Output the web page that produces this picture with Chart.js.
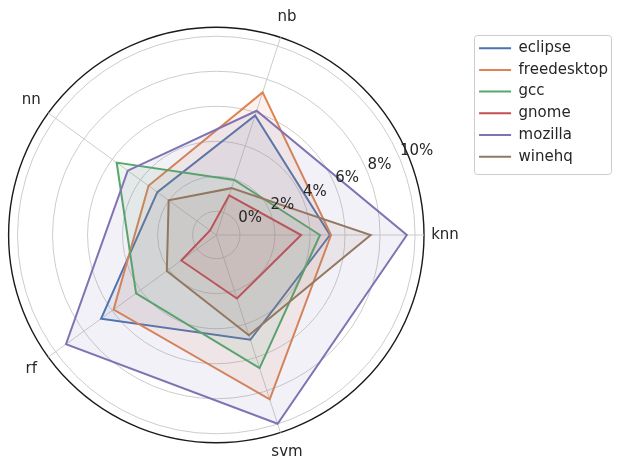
<!DOCTYPE html>
<html>
<head>
<meta charset="utf-8">
<script src="https://cdn.jsdelivr.net/npm/chart.js@4.4.1/dist/chart.umd.min.js"></script>
<style>
  html, body { margin: 0; padding: 0; background: #ffffff; }
  #wrap { width: 618px; height: 458px; position: relative; }
</style>
</head>
<body>
<div id="wrap"><canvas id="c" width="618" height="458"></canvas></div>
<script>
// Axis categories, listed clockwise starting at the right (knn)
const categories = ['knn', 'svm', 'rf', 'nn', 'nb'];
const seriesNames = ['eclipse', 'freedesktop', 'gcc', 'gnome', 'mozilla', 'winehq'];

// Values in % (same order as categories)
const eclipse     = [5.14, 4.94, 6.78, 2.81, 5.82];
const freedesktop = [5.20, 8.52, 5.90, 3.43, 7.21];
const gcc         = [4.57, 6.64, 4.31, 5.68, 1.95];
const gnome       = [3.49, 2.46, 1.12, -0.91, 1.03];
const mozilla     = [9.53, 9.98, 9.26, 4.90, 6.11];
const winehq      = [7.47, 4.67, 2.14, 2.01, 1.46];

const tickValues = [0, 2, 4, 6, 8, 10];
const rMin = -1.354;
const rMax = 10.51;

const seriesValues = [eclipse, freedesktop, gcc, gnome, mozilla, winehq];
const seriesColors = ['#4c72b0', '#dd8452', '#55a868', '#c44e52', '#8172b3', '#937860'];

function rgba(hex, a) {
  const n = parseInt(hex.slice(1), 16);
  return `rgba(${(n >> 16) & 255},${(n >> 8) & 255},${n & 255},${a})`;
}

const FONT = '"DejaVu Sans", sans-serif';
const TEXT = '#262626';
Chart.defaults.font.family = FONT;

const polarDecor = {
  id: 'polarDecor',
  afterDatasetsDraw(chart) {
    const s = chart.scales.r;
    const ctx = chart.ctx;
    ctx.save();
    ctx.fillStyle = TEXT;
    ctx.font = '15px ' + FONT;
    // radial tick labels along the 22.5° direction
    const ang = -22.5 * Math.PI / 180;
    ctx.textAlign = 'left';
    ctx.textBaseline = 'bottom';
    tickValues.forEach(v => {
      const d = s.getDistanceFromCenterForValue(v);
      ctx.fillText(v + '%', s.xCenter + d * Math.cos(ang), s.yCenter + d * Math.sin(ang));
    });
    // category labels, centred outside the outer circle
    ctx.textAlign = 'center';
    ctx.textBaseline = 'middle';
    chart.data.labels.forEach((lab, i) => {
      const p = s.getPointPosition(i, s.drawingArea + 21);
      ctx.fillText(lab, p.x, p.y);
    });
    ctx.restore();
  },
  afterDraw(chart) {
    const hb = chart.legend && chart.legend.legendHitBoxes;
    if (!hb || !hb.length) return;
    const ctx = chart.ctx;
    const left = Math.min(...hb.map(h => h.left)) - 5;
    const right = Math.max(...hb.map(h => h.left + h.width)) + 3;
    const top = hb[0].top - 6;
    const last = hb[hb.length - 1];
    const bottom = last.top + last.height + 9;
    ctx.save();
    ctx.strokeStyle = '#cccccc';
    ctx.lineWidth = 1;
    ctx.beginPath();
    ctx.roundRect(Math.round(left) + 0.5, Math.round(top) + 0.5, Math.round(right - left), Math.round(bottom - top), 3);
    ctx.stroke();
    ctx.restore();
  }
};

new Chart(document.getElementById('c'), {
  type: 'radar',
  data: {
    labels: categories,
    datasets: seriesNames.map((name, i) => ({
      label: name,
      data: seriesValues[i],
      borderColor: seriesColors[i],
      backgroundColor: rgba(seriesColors[i], 0.1),
      borderWidth: 2,
      pointRadius: 0,
      pointHoverRadius: 0,
      fill: 'start',
      clip: false,
      order: seriesNames.length - i
    }))
  },
  options: {
    responsive: false,
    devicePixelRatio: 1,
    animation: false,
    layout: { padding: { top: 34, left: 0, right: 0, bottom: 0 } },
    plugins: {
      tooltip: { enabled: false },
      legend: {
        position: 'right',
        align: 'start',
        labels: {
          usePointStyle: true,
          pointStyle: 'line',
          pointStyleWidth: 32,
          boxHeight: 15,
          padding: 6.7,
          color: TEXT,
          font: { family: FONT, size: 15 },
          sort: (a, b) => a.datasetIndex - b.datasetIndex
        }
      }
    },
    scales: {
      r: {
        min: rMin,
        max: rMax,
        startAngle: 90,
        afterBuildTicks: (scale) => {
          scale.ticks = tickValues.concat([rMax]).map(v => ({ value: v }));
        },
        afterFit: (scale) => {
          scale.xCenter = 216.3;
          scale.yCenter = 235;
          scale.drawingArea = 207.7;
        },
        ticks: { display: false },
        grid: {
          circular: true,
          color: (c) => (c.tick && c.tick.value === rMax) ? '#1a1a1a' : '#cccccc',
          lineWidth: (c) => (c.tick && c.tick.value === rMax) ? 1.4 : 1
        },
        angleLines: { color: '#cccccc', lineWidth: 1 },
        pointLabels: { display: false }
      }
    }
  },
  plugins: [polarDecor]
});
</script>
</body>
</html>
